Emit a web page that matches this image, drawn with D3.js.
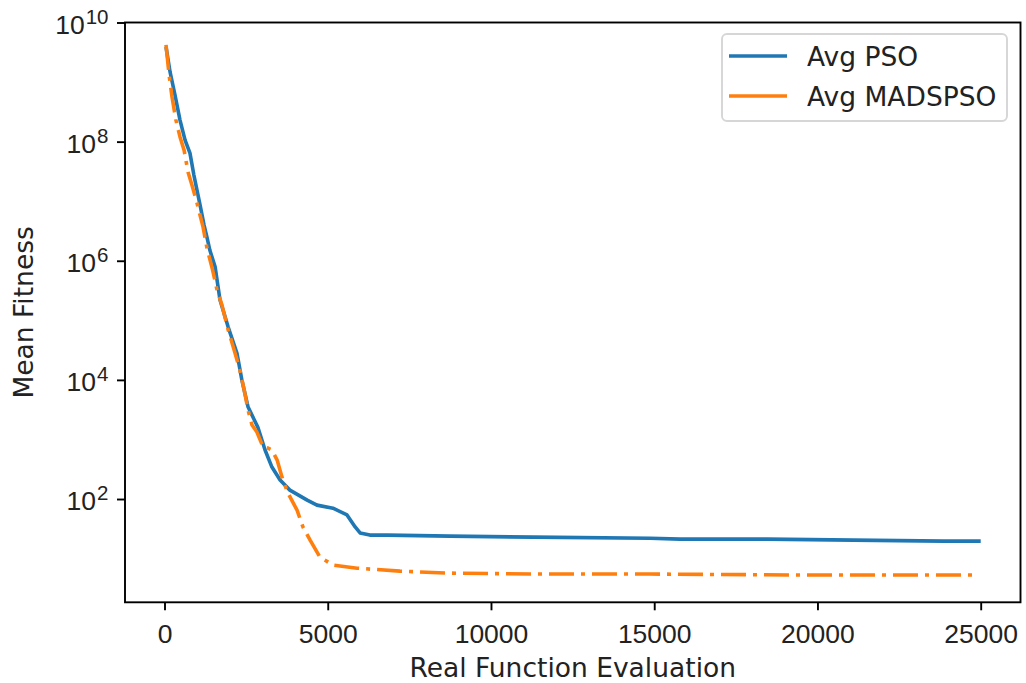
<!DOCTYPE html>
<html>
<head>
<meta charset="utf-8">
<script src="https://cdn.jsdelivr.net/npm/d3@7"></script>
<style>
  body { margin: 0; background: #fff; }
  svg { display: block; }
</style>
</head>
<body>
<script>
// values
const evalsPSO = [46, 170, 320, 475, 630, 780, 900, 995, 1090, 1210, 1300, 1390, 1550, 1700, 1950, 2220,
  2370, 2560, 2860, 3080, 3290, 3540, 3840, 4370, 4670, 5160, 5590, 5840, 5990, 6290, 6820, 8740, 11290,
  14870, 15790, 18450, 21090, 23850, 25000];
const fitnessPSO = [3.9e9, 1.48e9, 6.1e8, 2.3e8, 1.06e8, 6.4e7, 2.75e7, 1.54e7, 8.6e6, 4.0e6, 2.5e6, 1.5e6,
  7.9e5, 2.2e5, 7.7e4, 2.8e4, 9.9e3, 3.5e3, 1.6e3, 664, 344, 208, 141, 96, 79, 70, 54, 34, 27, 24.8, 24.8,
  23.8, 22.9, 22.0, 21.2, 21.2, 20.4, 19.6, 19.6];

const evalsMADSPSO = [46, 140, 230, 350, 475, 600, 720, 840, 995, 1180, 1300, 1460, 1610, 1760, 1950, 2130,
  2310, 2440, 2560, 2680, 2830, 3020, 3170, 3290, 3450, 3600, 3780, 4060, 4240, 4460, 4760, 5160, 5900,
  7210, 8740, 11290, 14870, 19470, 24900];
const fitnessMADSPSO = [4.2e9, 1.32e9, 5.6e8, 2.3e8, 1.2e8, 7.2e7, 3.1e7, 1.87e7, 9.3e6, 3.7e6, 1.64e6,
  7.5e5, 3.2e5, 1.8e5, 6.9e4, 3.2e4, 1.46e4, 6.8e3, 3.1e3, 1.75e3, 1.33e3, 745, 716, 664, 451, 233, 126,
  65, 34, 20.4, 10.6, 7.8, 6.9, 6.15, 5.7, 5.5, 5.5, 5.3, 5.3];

const seriesNames = ['Avg PSO', 'Avg MADSPSO'];
const seriesColors = ['#1f77b4', '#ff7f0e'];
const xTicks = [0, 5000, 10000, 15000, 20000, 25000];
const yTicks = [1e2, 1e4, 1e6, 1e8, 1e10];

const width = 1026;
const height = 683;
const margin = { top: 22.5, right: 5.5, bottom: 80.7, left: 125 };
const fontSize = 26.5;
const textColor = '#222';

const x = d3.scaleLinear()
  .domain([-1210, 26219])
  .range([margin.left, width - margin.right]);

const y = d3.scaleLog()
  .domain([Math.pow(10, 0.266), 1e10])
  .range([height - margin.bottom, margin.top]);

const svg = d3.select('body')
  .append('svg')
  .attr('width', width)
  .attr('height', height)
  .style('font-family', '"DejaVu Sans", sans-serif');

const series = [
  { name: seriesNames[0], color: seriesColors[0], dash: null,
    values: evalsPSO.map((e, i) => [e, fitnessPSO[i]]) },
  { name: seriesNames[1], color: seriesColors[1], dash: '25 7 4 7',
    values: evalsMADSPSO.map((e, i) => [e, fitnessMADSPSO[i]]) },
];

const line = d3.line()
  .x(d => x(d[0]))
  .y(d => y(d[1]));

svg.append('g')
  .selectAll('path')
  .data(series)
  .join('path')
    .attr('fill', 'none')
    .attr('stroke', d => d.color)
    .attr('stroke-width', 3.6)
    .attr('stroke-linejoin', 'round')
    .attr('stroke-dasharray', d => d.dash)
    .attr('d', d => line(d.values));

// x axis
const xAxis = svg.append('g')
  .attr('transform', `translate(0,${height - margin.bottom})`)
  .call(d3.axisBottom(x).tickValues(xTicks).tickFormat(d3.format('d')).tickSize(8));
xAxis.select('.domain').remove();
xAxis.selectAll('line').attr('stroke', '#000').attr('stroke-width', 1.9);
xAxis.selectAll('text')
  .attr('y', 40.5)
  .attr('dy', null)
  .attr('fill', textColor)
  .style('font-size', fontSize + 'px');

// y axis, labels as 10 with a superscript exponent
const yAxis = svg.append('g')
  .attr('transform', `translate(${margin.left},0)`)
  .call(d3.axisLeft(y).tickValues(yTicks).tickFormat('').tickSize(8));
yAxis.select('.domain').remove();
yAxis.selectAll('line').attr('stroke', '#000').attr('stroke-width', 1.9);
yAxis.selectAll('.tick').each(function(d) {
  const t = d3.select(this).append('text')
    .attr('x', -16.5)
    .attr('y', 10.5)
    .attr('text-anchor', 'end')
    .attr('fill', textColor)
    .style('font-size', fontSize + 'px');
  t.append('tspan').text('10');
  t.append('tspan')
    .attr('dx', 1)
    .attr('dy', -10)
    .style('font-size', '20.5px')
    .text(Math.round(Math.log10(d)));
});

// frame
svg.append('rect')
  .attr('x', margin.left)
  .attr('y', margin.top)
  .attr('width', width - margin.left - margin.right)
  .attr('height', height - margin.top - margin.bottom)
  .attr('fill', 'none')
  .attr('stroke', '#000')
  .attr('stroke-width', 1.9);

// axis labels
svg.append('text')
  .attr('x', (margin.left + width - margin.right) / 2)
  .attr('y', 677)
  .attr('text-anchor', 'middle')
  .attr('fill', textColor)
  .style('font-size', fontSize + 'px')
  .text('Real Function Evaluation');

svg.append('text')
  .attr('transform', `translate(33,${(margin.top + height - margin.bottom) / 2}) rotate(-90)`)
  .attr('text-anchor', 'middle')
  .attr('fill', textColor)
  .style('font-size', fontSize + 'px')
  .text('Mean Fitness');

// legend
const legend = svg.append('g');
legend.append('rect')
  .attr('x', 722)
  .attr('y', 34)
  .attr('width', 285)
  .attr('height', 87)
  .attr('rx', 5)
  .attr('fill', '#fff')
  .attr('fill-opacity', 0.8)
  .attr('stroke', '#d6d6d6')
  .attr('stroke-width', 1.9);

const item = legend.selectAll('g.item')
  .data(series)
  .join('g')
    .attr('class', 'item')
    .attr('transform', (d, i) => `translate(0,${56 + i * 40})`);

item.append('line')
  .attr('x1', 729)
  .attr('x2', 787)
  .attr('stroke', d => d.color)
  .attr('stroke-width', 3.6);

item.append('text')
  .attr('x', 807)
  .attr('y', 9.5)
  .attr('fill', textColor)
  .style('font-size', fontSize + 'px')
  .text(d => d.name);
</script>
</body>
</html>
